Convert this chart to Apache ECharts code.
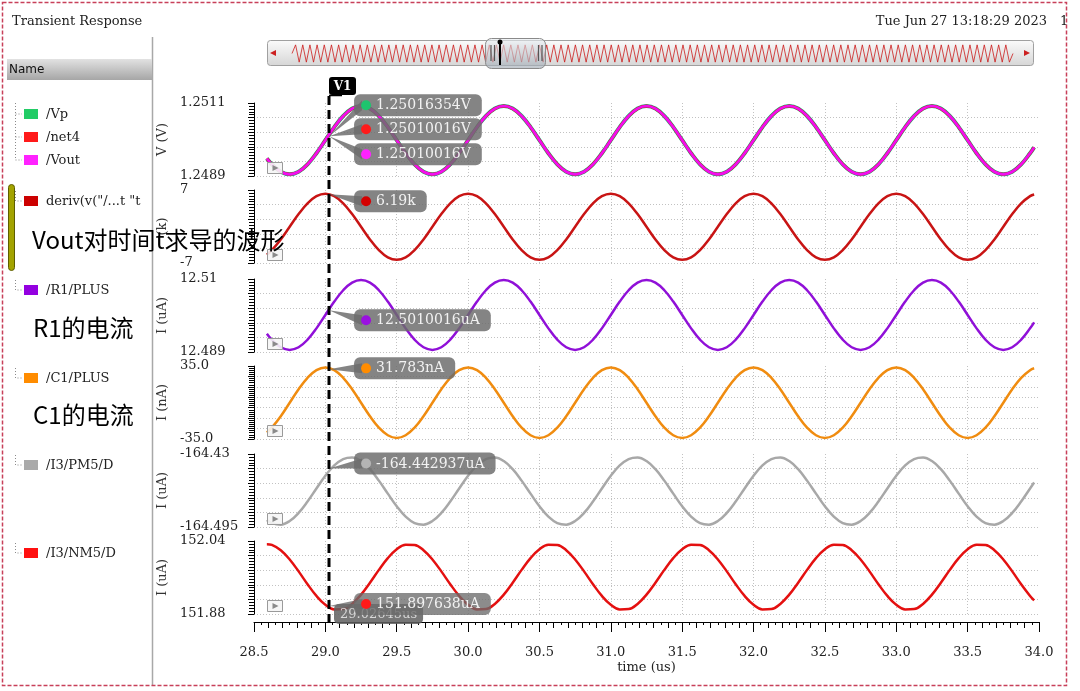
<!DOCTYPE html>
<html><head><meta charset="utf-8">
<script src="https://cdn.jsdelivr.net/npm/echarts@6/dist/echarts.min.js"></script>
<style>html,body{margin:0;padding:0;background:#fff}#c{width:1080px;height:691px}</style>
</head><body><div id="c"></div>
<script>
// ---------------- DATA ----------------
const xTicks = [28.5, 34.0];           // x axis extent (us), major step 0.5
const cursorTime = 29.026;
const cursorLabel = '29.02645us';

// common sample times (us)
const T = [28.59, 28.625, 28.6875, 28.75, 28.8125, 28.875, 28.9375,
  29.0, 29.0625, 29.125, 29.1875, 29.25, 29.3125, 29.375, 29.4375, 29.5, 29.5625, 29.625, 29.6875, 29.75, 29.8125, 29.875, 29.9375,
  30.0, 30.0625, 30.125, 30.1875, 30.25, 30.3125, 30.375, 30.4375, 30.5, 30.5625, 30.625, 30.6875, 30.75, 30.8125, 30.875, 30.9375,
  31.0, 31.0625, 31.125, 31.1875, 31.25, 31.3125, 31.375, 31.4375, 31.5, 31.5625, 31.625, 31.6875, 31.75, 31.8125, 31.875, 31.9375,
  32.0, 32.0625, 32.125, 32.1875, 32.25, 32.3125, 32.375, 32.4375, 32.5, 32.5625, 32.625, 32.6875, 32.75, 32.8125, 32.875, 32.9375,
  33.0, 33.0625, 33.125, 33.1875, 33.25, 33.3125, 33.375, 33.4375, 33.5, 33.5625, 33.625, 33.6875, 33.75, 33.8125, 33.875, 33.9375,
  33.966];

// /Vp, /net4, /Vout (V)
const vOut = [1.249428, 1.249252, 1.249028, 1.24895, 1.249028, 1.249252, 1.249586,
  1.24998, 1.250374, 1.250708, 1.250932, 1.25101, 1.250932, 1.250708, 1.250374, 1.24998, 1.249586, 1.249252, 1.249028, 1.24895, 1.249028, 1.249252, 1.249586,
  1.24998, 1.250374, 1.250708, 1.250932, 1.25101, 1.250932, 1.250708, 1.250374, 1.24998, 1.249586, 1.249252, 1.249028, 1.24895, 1.249028, 1.249252, 1.249586,
  1.24998, 1.250374, 1.250708, 1.250932, 1.25101, 1.250932, 1.250708, 1.250374, 1.24998, 1.249586, 1.249252, 1.249028, 1.24895, 1.249028, 1.249252, 1.249586,
  1.24998, 1.250374, 1.250708, 1.250932, 1.25101, 1.250932, 1.250708, 1.250374, 1.24998, 1.249586, 1.249252, 1.249028, 1.24895, 1.249028, 1.249252, 1.249586,
  1.24998, 1.250374, 1.250708, 1.250932, 1.25101, 1.250932, 1.250708, 1.250374, 1.24998, 1.249586, 1.249252, 1.249028, 1.24895, 1.249028, 1.249252, 1.249586,
  1.249764];
// deriv(Vout) (k)
const dVout = [-5.41, -4.54, -2.48, -0.05, 2.38, 4.44, 5.82,
  6.3, 5.82, 4.44, 2.38, -0.05, -2.48, -4.54, -5.92, -6.4, -5.92, -4.54, -2.48, -0.05, 2.38, 4.44, 5.82,
  6.3, 5.82, 4.44, 2.38, -0.05, -2.48, -4.54, -5.92, -6.4, -5.92, -4.54, -2.48, -0.05, 2.38, 4.44, 5.82,
  6.3, 5.82, 4.44, 2.38, -0.05, -2.48, -4.54, -5.92, -6.4, -5.92, -4.54, -2.48, -0.05, 2.38, 4.44, 5.82,
  6.3, 5.82, 4.44, 2.38, -0.05, -2.48, -4.54, -5.92, -6.4, -5.92, -4.54, -2.48, -0.05, 2.38, 4.44, 5.82,
  6.3, 5.82, 4.44, 2.38, -0.05, -2.48, -4.54, -5.92, -6.4, -5.92, -4.54, -2.48, -0.05, 2.38, 4.44, 5.82,
  6.15];
// /R1/PLUS (uA)
const iR1 = [12.49426, 12.49254, 12.49036, 12.4896, 12.49036, 12.49254, 12.4958,
  12.49965, 12.5035, 12.50676, 12.50894, 12.5097, 12.50894, 12.50676, 12.5035, 12.49965, 12.4958, 12.49254, 12.49036, 12.4896, 12.49036, 12.49254, 12.4958,
  12.49965, 12.5035, 12.50676, 12.50894, 12.5097, 12.50894, 12.50676, 12.5035, 12.49965, 12.4958, 12.49254, 12.49036, 12.4896, 12.49036, 12.49254, 12.4958,
  12.49965, 12.5035, 12.50676, 12.50894, 12.5097, 12.50894, 12.50676, 12.5035, 12.49965, 12.4958, 12.49254, 12.49036, 12.4896, 12.49036, 12.49254, 12.4958,
  12.49965, 12.5035, 12.50676, 12.50894, 12.5097, 12.50894, 12.50676, 12.5035, 12.49965, 12.4958, 12.49254, 12.49036, 12.4896, 12.49036, 12.49254, 12.4958,
  12.49965, 12.5035, 12.50676, 12.50894, 12.5097, 12.50894, 12.50676, 12.5035, 12.49965, 12.4958, 12.49254, 12.49036, 12.4896, 12.49036, 12.49254, 12.4958,
  12.49754];
// /C1/PLUS (nA)
const iC1 = [-28.7, -24.1, -13.15, -0.2, 12.75, 23.7, 31.03,
  33.6, 31.03, 23.7, 12.75, -0.2, -13.15, -24.1, -31.43, -34.0, -31.43, -24.1, -13.15, -0.2, 12.75, 23.7, 31.03,
  33.6, 31.03, 23.7, 12.75, -0.2, -13.15, -24.1, -31.43, -34.0, -31.43, -24.1, -13.15, -0.2, 12.75, 23.7, 31.03,
  33.6, 31.03, 23.7, 12.75, -0.2, -13.15, -24.1, -31.43, -34.0, -31.43, -24.1, -13.15, -0.2, 12.75, 23.7, 31.03,
  33.6, 31.03, 23.7, 12.75, -0.2, -13.15, -24.1, -31.43, -34.0, -31.43, -24.1, -13.15, -0.2, 12.75, 23.7, 31.03,
  33.6, 31.03, 23.7, 12.75, -0.2, -13.15, -24.1, -31.43, -34.0, -31.43, -24.1, -13.15, -0.2, 12.75, 23.7, 31.03,
  32.8];
// /I3/PM5/D (uA)
const iPM5 = [-164.4888,
  -164.4915, -164.4929, -164.4897, -164.4825, -164.4723, -164.4607, -164.4494, -164.4402, -164.4345, -164.4331, -164.4363, -164.4435, -164.4537, -164.4653, -164.4766, -164.4858,
  -164.4915, -164.4929, -164.4897, -164.4825, -164.4723, -164.4607, -164.4494, -164.4402, -164.4345, -164.4331, -164.4363, -164.4435, -164.4537, -164.4653, -164.4766, -164.4858,
  -164.4915, -164.4929, -164.4897, -164.4825, -164.4723, -164.4607, -164.4494, -164.4402, -164.4345, -164.4331, -164.4363, -164.4435, -164.4537, -164.4653, -164.4766, -164.4858,
  -164.4915, -164.4929, -164.4897, -164.4825, -164.4723, -164.4607, -164.4494, -164.4402, -164.4345, -164.4331, -164.4363, -164.4435, -164.4537, -164.4653, -164.4766, -164.4858,
  -164.4915, -164.4929, -164.4897, -164.4825, -164.4723, -164.4607, -164.4494, -164.4402, -164.4345, -164.4331, -164.4363, -164.4435, -164.4537, -164.4653, -164.4766, -164.4858,
  -164.4915, -164.4929, -164.4897, -164.4825, -164.4723, -164.4607,
  -164.4554];
// /I3/NM5/D (uA)
const iNM5 = [152.033,
  152.0313, 152.0199, 151.9996, 151.9734, 151.9453, 151.9196, 151.9002, 151.8901, 151.8907, 151.9021, 151.9224, 151.9486, 151.9767, 152.0024, 152.0218, 152.0319,
  152.0313, 152.0199, 151.9996, 151.9734, 151.9453, 151.9196, 151.9002, 151.8901, 151.8907, 151.9021, 151.9224, 151.9486, 151.9767, 152.0024, 152.0218, 152.0319,
  152.0313, 152.0199, 151.9996, 151.9734, 151.9453, 151.9196, 151.9002, 151.8901, 151.8907, 151.9021, 151.9224, 151.9486, 151.9767, 152.0024, 152.0218, 152.0319,
  152.0313, 152.0199, 151.9996, 151.9734, 151.9453, 151.9196, 151.9002, 151.8901, 151.8907, 151.9021, 151.9224, 151.9486, 151.9767, 152.0024, 152.0218, 152.0319,
  152.0313, 152.0199, 151.9996, 151.9734, 151.9453, 151.9196, 151.9002, 151.8901, 151.8907, 151.9021, 151.9224, 151.9486, 151.9767, 152.0024, 152.0218, 152.0319,
  152.0313, 152.0199, 151.9996, 151.9734, 151.9453, 151.9196,
  151.9097];

// overview strip in the scrollbar (peaks / troughs)
const overviewWave = [0,
  1,-1,1,-1,1,-1,1,-1,1,-1, 1,-1,1,-1,1,-1,1,-1,1,-1,
  1,-1,1,-1,1,-1,1,-1,1,-1, 1,-1,1,-1,1,-1,1,-1,1,-1,
  1,-1,1,-1,1,-1,1,-1,1,-1, 1,-1,1,-1,1,-1,1,-1,1,-1,
  1,-1,1,-1,1,-1,1,-1,1,-1, 1,-1,1,-1,1,-1,1,-1,1,-1,
  1,-1,1,-1,1,-1,1,-1,1,-1, 1,-1,1,-1,1,-1,1,-1,1,-1,
  1,-1,1,-1,1,-1,1,-1,1,-1, 1,-1,1,-1,1,-1,1,-1,1,-1,
  1,-1,1,-1,1,-1,1,-1,1,-1, 1,-1,1,-1,1,-1,1,-1,1,-1,
  1,-1,1,-1,1,-1,1,-1,1,-1, 1,-1,1,-1,1,-1,1,-1,1,-1,
  1,-1,1,-1,1,-1,1,-1,1,-1, 1,-1,1,-1,1,-1,1,-1,1,-1,
  1,-1,1,-1,1,-1,1,-1,1,-1, 1,-1,1,-1,1,-1,1,-1,1,-1,
  0];

// y axes (per strip)
const yMin = [1.2489, -7, 12.489, -35, -164.495, 151.88];
const yMax = [1.2511, 7, 12.51, 35, -164.43, 152.04];
const yStep = [0.00044, 2.8, 0.0042, 10, 0.013, 0.032];
const yTopLabels = ['1.2511', '7', '12.51', '35.0', '-164.43', '152.04'];
const yBotLabels = ['1.2489', '-7', '12.489', '-35.0', '-164.495', '151.88'];
const yNames = ['V (V)', '(k)', 'I (uA)', 'I (nA)', 'I (uA)', 'I (uA)'];

// legend / names
const legendNames = ['/Vp', '/net4', '/Vout', 'deriv(v("/...t "t', '/R1/PLUS', '/C1/PLUS', '/I3/PM5/D', '/I3/NM5/D'];
const notes = ['Vout对时间t求导的波形', 'R1的电流', 'C1的电流'];

// marker readouts at the V1 cursor
const markerText = ['1.25016354V', '1.25010016V', '1.25010016V', '6.19k', '12.5010016uA', '31.783nA', '-164.442937uA', '151.897638uA'];
const markerValue = [1.25010016, 1.25010016, 1.25010016, 6.19, 12.5010016, 31.783, -164.442937, 151.897638];

// ---------------- RENDERING ----------------
const SERIF = '"DejaVu Serif", "Liberation Serif", serif';
const SANS = '"DejaVu Sans", sans-serif';
const CJK = '"Noto Sans CJK SC", sans-serif';
const panelTop = [103, 190, 279, 366, 454, 541];
const PH = 73;
const markerPanel = [0, 0, 0, 1, 2, 3, 4, 5];
const markerDy = [-31, -7, 18, 7, 10, -1, -5, -2];
const markerColor = ['#1ec46e', '#ff1a1a', '#ff22ff', '#d40000', '#9a10e0', '#ff8c00', '#b4b4b4', '#ff1a1a'];
const legendColor = ['#22cc66', '#ff1a1a', '#ff22ff', '#cc0000', '#9400e0', '#ff8c00', '#aaaaaa', '#ff1010'];
const legendY = [114, 137, 160, 201, 290, 378, 465, 553];

const zip = (t, v) => t.map((x, i) => [x, v[i]]);

const grids = panelTop.map(t => ({left: 254, right: 41, top: t, height: PH, outerBoundsMode: 'none'}));
grids.push({left: 292, right: 67, top: 44, height: 19, outerBoundsMode: 'none'});
grids.push({left: 254, right: 41, top: 599, height: 23, outerBoundsMode: 'none'});

const gridDot = {color: '#c2c2c2', type: [1, 2], width: 1};
const xAxes = panelTop.map((t, i) => {
  const last = i === 5;
  return {
    type: 'value', gridIndex: i, min: xTicks[0], max: xTicks[1], interval: 0.5,
    offset: last ? 8 : 0,
    axisLine: {show: last, onZero: false, lineStyle: {color: '#000', width: 1}},
    axisTick: {show: last, length: 10, lineStyle: {color: '#000'}},
    minorTick: {show: false},
    axisLabel: {show: last, margin: 24, fontFamily: SERIF, fontSize: 13, color: '#222',
      formatter: v => v.toFixed(1)},
    splitLine: {show: true, showMinLine: false, showMaxLine: false, lineStyle: gridDot},
    name: last ? 'time (us)' : '', nameLocation: 'middle', nameGap: 39,
    nameTextStyle: {fontFamily: SERIF, fontSize: 13, color: '#222'}
  };
});
xAxes.push({type: 'value', gridIndex: 6, min: 0, max: overviewWave.length - 1, show: false});
xAxes.push({type: 'value', gridIndex: 7, min: xTicks[0], max: xTicks[1], interval: 0.1,
  axisLine: {show: false, onZero: false}, axisLabel: {show: false}, splitLine: {show: false},
  axisTick: {show: true, length: 6, lineStyle: {color: '#000'}},
  minorTick: {show: true, splitNumber: 2, length: 3, lineStyle: {color: '#000'}}});

const yAxes = panelTop.map((t, i) => {
  const eps = (yMax[i] - yMin[i]) * 1e-3;
  return {
    type: 'value', gridIndex: i, min: yMin[i], max: yMax[i], interval: yStep[i],
    axisLine: {show: true, onZero: false, lineStyle: {color: '#000', width: 1}},
    axisTick: {show: true, length: 6, lineStyle: {color: '#000'}},
    minorTick: {show: true, splitNumber: 5, length: 5, lineStyle: {color: '#000'}},
    axisLabel: {show: true, align: 'left', margin: 74, fontFamily: SERIF, fontSize: 13, color: '#222',
      showMinLabel: true, showMaxLabel: true,
      formatter: v => Math.abs(v - yMax[i]) < eps ? yTopLabels[i] : (Math.abs(v - yMin[i]) < eps ? yBotLabels[i] : '')},
    splitLine: {show: true, showMaxLine: false, lineStyle: gridDot},
    name: yNames[i], nameLocation: 'middle', nameGap: 82, nameRotate: 90,
    nameTextStyle: {fontFamily: SERIF, fontSize: 13, color: '#333'}
  };
});
yAxes.push({type: 'value', gridIndex: 6, min: -1.1, max: 1.1, show: false});
yAxes.push({type: 'value', gridIndex: 7, min: 0, max: 1, show: false});

function line(name, i, data, color, width) {
  return {name, type: 'line', xAxisIndex: i, yAxisIndex: i, data, smooth: 0.4, showSymbol: false,
    symbol: 'none', lineStyle: {color, width}, itemStyle: {color}, animation: false, silent: true};
}
const series = [
  line('/Vp', 0, zip(T, vOut), '#10b890', 4),
  line('/net4', 0, zip(T, vOut), '#ff0000', 3),
  line('/Vout', 0, zip(T, vOut), '#f010f0', 2.6),
  line('deriv', 1, zip(T, dVout), '#c81414', 2.5),
  line('/R1/PLUS', 2, zip(T, iR1), '#9010d8', 2.5),
  line('/C1/PLUS', 3, zip(T, iC1), '#f08c10', 2.5),
  line('/I3/PM5/D', 4, zip(T, iPM5), '#a8a8a8', 2.5),
  line('/I3/NM5/D', 5, zip(T, iNM5), '#e41010', 2.5),
  {type: 'line', xAxisIndex: 6, yAxisIndex: 6, data: overviewWave.map((v, i) => [i, v]),
    showSymbol: false, symbol: 'none', lineStyle: {color: '#cc1a1a', width: 0.8}, animation: false, z: 6, silent: true}
];

const chart = echarts.init(document.getElementById('c'), null, {renderer: 'canvas', width: 1080, height: 691});
chart.setOption({
  backgroundColor: '#fff', animation: false,
  textStyle: {fontFamily: SERIF},
  grid: grids, xAxis: xAxes, yAxis: yAxes, series
});

// ---------- overlays ----------
const mctx = document.createElement('canvas').getContext('2d');
const tw = (s, f) => { mctx.font = f; return mctx.measureText(s).width; };
const G = [];
const txt = (x, y, s, font, fill, align, z) => ({type: 'text', x, y, z: z || 50, silent: true,
  style: {text: s, font, fill, align: align || 'left', verticalAlign: 'middle'}});
const LG = (a, b) => new echarts.graphic.LinearGradient(0, 0, 0, 1, [{offset: 0, color: a}, {offset: 1, color: b}]);

// frame and header
G.push({type: 'rect', z: 100, silent: true, shape: {x: 2.5, y: 2.5, width: 1064, height: 683},
  style: {fill: null, stroke: '#c8405a', lineWidth: 1.5, lineDash: [4, 2]}});
G.push(txt(12, 22, 'Transient Response', '13px ' + SERIF, '#222'));
G.push(txt(1047, 22, 'Tue Jun 27 13:18:29 2023', '13px ' + SERIF, '#222', 'right'));
G.push(txt(1060, 22, '1', '13px ' + SERIF, '#222'));
G.push({type: 'line', z: 40, silent: true, shape: {x1: 152.5, y1: 37, x2: 152.5, y2: 686}, style: {stroke: '#a8a8a8', lineWidth: 1.5}});
G.push({type: 'rect', z: 40, silent: true, shape: {x: 7, y: 59, width: 145, height: 21}, style: {fill: LG('#e2e2e2', '#a6a6a6')}});
G.push(txt(9, 69.5, 'Name', '12px ' + SANS, '#111'));

// legend column
const dot = {stroke: '#8a8a8a', lineWidth: 1, lineDash: [1, 2], fill: null};
G.push({type: 'polyline', z: 41, silent: true, shape: {points: [[15.5, 103], [15.5, 160]]}, style: dot});
[114, 137, 160].forEach(y => G.push({type: 'polyline', z: 41, silent: true, shape: {points: [[15.5, y], [22, y]]}, style: dot}));
[201, 290, 378, 465, 553].forEach(y => G.push({type: 'polyline', z: 41, silent: true,
  shape: {points: [[15.5, y - 10], [15.5, y], [22, y]]}, style: dot}));
legendNames.forEach((n, k) => {
  const y = legendY[k];
  G.push({type: 'rect', z: 42, silent: true, shape: {x: 24, y: y - 5, width: 14, height: 10}, style: {fill: legendColor[k]}});
  G.push(txt(46, y + 0.5, n, '13px ' + SERIF, '#222'));
});
G.push({type: 'rect', z: 43, silent: true, shape: {x: 8.5, y: 184.5, width: 6, height: 86, r: 3},
  style: {fill: '#a3a300', stroke: '#5e5e00', lineWidth: 1}});
G.push(txt(32, 240, notes[0], '24px ' + CJK, '#000', 'left', 90));
G.push(txt(33, 328, notes[1], '24px ' + CJK, '#000', 'left', 90));
G.push(txt(33, 415, notes[2], '24px ' + CJK, '#000', 'left', 90));

// scrollbar
G.push({type: 'rect', z: 1, silent: true, shape: {x: 267.5, y: 40.5, width: 766, height: 25, r: 3},
  style: {fill: LG('#fbfbfb', '#d6d6d6'), stroke: '#a0a0a0', lineWidth: 1}});
G.push({type: 'polygon', z: 3, silent: true, shape: {points: [[270, 53], [276, 50], [276, 56]]}, style: {fill: '#cc2020'}});
G.push({type: 'polygon', z: 3, silent: true, shape: {points: [[1030, 53], [1024, 50], [1024, 56]]}, style: {fill: '#cc2020'}});
G.push({type: 'rect', z: 8, silent: true, shape: {x: 485.5, y: 38.5, width: 60, height: 30, r: 6},
  style: {fill: LG('rgba(235,240,244,0.6)', 'rgba(160,170,180,0.65)'), stroke: '#8a8a8a', lineWidth: 1}});
[491, 494.5, 538.5, 542].forEach(x => G.push({type: 'line', z: 9, silent: true,
  shape: {x1: x, y1: 45, x2: x, y2: 61}, style: {stroke: '#555', lineWidth: 1.2}}));
G.push({type: 'line', z: 9, silent: true, shape: {x1: 500, y1: 42, x2: 500, y2: 65}, style: {stroke: '#000', lineWidth: 2}});
G.push({type: 'circle', z: 9, silent: true, shape: {cx: 500, cy: 42, r: 2.5}, style: {fill: '#000'}});

// small play boxes at strip bottoms
panelTop.forEach((t, i) => {
  const p = chart.convertToPixel({xAxisIndex: i, yAxisIndex: i}, [28.59, yMin[i]]);
  const x = Math.round(p[0]) + 0.5, b = Math.round(p[1]);
  G.push({type: 'rect', z: 45, silent: true, shape: {x: x, y: b - 13.5, width: 15, height: 11},
    style: {fill: 'rgba(245,245,245,0.9)', stroke: '#9a9a9a', lineWidth: 1}});
  G.push({type: 'polygon', z: 46, silent: true, shape: {points: [[x + 5, b - 11], [x + 5, b - 5], [x + 11, b - 8]]},
    style: {fill: '#8a8a8a'}});
});

// cursor V1
const cTop = chart.convertToPixel({xAxisIndex: 0, yAxisIndex: 0}, [cursorTime, yMax[0]]);
const cBot = chart.convertToPixel({xAxisIndex: 5, yAxisIndex: 5}, [cursorTime, yMin[5]]);
const cx = Math.round(cTop[0]);
G.push({type: 'line', z: 55, silent: true, shape: {x1: cx, y1: 96, x2: cx, y2: cBot[1] + 10},
  style: {stroke: '#000', lineWidth: 3, lineDash: [9, 5]}});
G.push({type: 'line', z: 55, silent: true, shape: {x1: cx, y1: 95.5, x2: cx + 13, y2: 95.5}, style: {stroke: '#000', lineWidth: 1.5}});
G.push({type: 'rect', z: 56, silent: true, shape: {x: cx, y: 77, width: 27, height: 18, r: 3}, style: {fill: '#000'}});
G.push(txt(cx + 13.5, 86.5, 'V1', 'bold 12px ' + SERIF, '#fff', 'center', 57));

// cursor time box (under NM5 readout)
{
  const f = '13px ' + SERIF;
  const w = tw(cursorLabel, f) + 12;
  G.push({type: 'rect', z: 58, silent: true, shape: {x: cx + 5, y: 604, width: w, height: 20, r: 5}, style: {fill: 'rgba(95,95,95,0.85)'}});
  G.push(txt(cx + 11, 615, cursorLabel, f, '#d8d8d8', 'left', 58));
}

// readouts
const LF = '14px ' + SERIF;
markerText.forEach((s, k) => {
  const p = markerPanel[k];
  const a = chart.convertToPixel({xAxisIndex: p, yAxisIndex: p}, [cursorTime, markerValue[k]]);
  const bx = a[0] + 25, cy = a[1] + markerDy[k];
  const w = 24 + tw(s, LF) + 9;
  const gray = k === 7 ? 'rgba(108,108,108,0.78)' : 'rgba(108,108,108,0.84)';
  G.push({type: 'polygon', z: 60, silent: true, shape: {points: [[a[0], a[1]], [bx + 8, cy - 5], [bx + 8, cy + 5]]}, style: {fill: gray}});
  G.push({type: 'rect', z: 61, silent: true, shape: {x: bx, y: cy - 11, width: w, height: 22, r: 6}, style: {fill: gray}});
  G.push({type: 'circle', z: 62, silent: true, shape: {cx: bx + 12, cy: cy, r: 5}, style: {fill: markerColor[k]}});
  G.push(txt(bx + 22, cy + 0.5, s, LF, '#f2f2f2', 'left', 62));
});

chart.setOption({graphic: {elements: G}});
</script>
</body></html>
